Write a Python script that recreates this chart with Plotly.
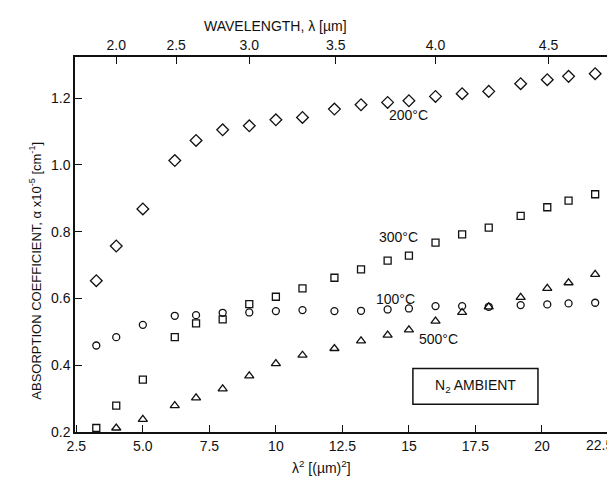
import plotly.graph_objects as go

# lambda^2 values (um^2)
x_common = [3.25, 4.0, 5.0, 6.2, 7.0, 8.0, 9.0, 10.0, 11.0, 12.2, 13.2, 14.2, 15.0, 16.0, 17.0, 18.0, 19.2, 20.2, 21.0, 22.0]

# absorption coefficient, alpha x 1e-5 [cm^-1]
y_200 = [0.653, 0.757, 0.868, 1.013, 1.073, 1.105, 1.117, 1.135, 1.142, 1.167, 1.180, 1.187, 1.192, 1.205, 1.213, 1.220, 1.243, 1.255, 1.265, 1.273]
y_300 = [0.212, 0.279, 0.357, 0.484, 0.525, 0.537, 0.583, 0.605, 0.630, 0.662, 0.687, 0.713, 0.728, 0.767, 0.792, 0.812, 0.847, 0.873, 0.893, 0.912]
y_100 = [0.459, 0.484, 0.521, 0.548, 0.550, 0.557, 0.558, 0.562, 0.565, 0.562, 0.563, 0.567, 0.570, 0.577, 0.577, 0.575, 0.580, 0.582, 0.585, 0.587]
x_500 = [4.0, 5.0, 6.2, 7.0, 8.0, 9.0, 10.0, 11.0, 12.2, 13.2, 14.2, 15.0, 16.0, 17.0, 18.0, 19.2, 20.2, 21.0, 22.0]
y_500 = [0.212, 0.238, 0.279, 0.302, 0.329, 0.368, 0.405, 0.430, 0.450, 0.473, 0.490, 0.506, 0.532, 0.558, 0.575, 0.603, 0.630, 0.647, 0.672]

x_ticks = [2.5, 5.0, 7.5, 10, 12.5, 15, 17.5, 20, 22.5]
x_ticktext = ["2.5", "5.0", "7.5", "10", "12.5", "15", "17.5", "20", ""]
last_x_label = "22.5"
y_ticks = [0.2, 0.4, 0.6, 0.8, 1.0, 1.2]
y_ticktext = ["0.2", "0.4", "0.6", "0.8", "1.0", "1.2"]
lam_ticks = [2.0, 2.5, 3.0, 3.5, 4.0, 4.5]

FONT = "Liberation Sans"
BLACK = "#111111"

fig = go.Figure()

def add(x, y, symbol, size, name):
    fig.add_trace(go.Scatter(
        x=x, y=y, mode="markers", name=name,
        marker=dict(symbol=symbol, size=size, color=BLACK,
                    line=dict(color=BLACK, width=1.3)),
        showlegend=False))

add(x_common, y_200, "diamond-open", 9, "200°C")
add(x_common, y_300, "square-open", 7, "300°C")
add(x_common, y_100, "circle-open", 7, "100°C")
add(x_500, y_500, "triangle-up-open", 8, "500°C")

# invisible trace on top axis so it is drawn
fig.add_trace(go.Scatter(x=[x_common[0]], y=[y_100[0]], xaxis="x2", mode="markers",
                         marker=dict(opacity=0), showlegend=False, hoverinfo="skip"))

xr = [2.45, 22.52]
yr = [0.2, 1.323]

fig.update_layout(
    width=615, height=482,
    margin=dict(l=67, r=14, t=49, b=58),
    paper_bgcolor="white", plot_bgcolor="white",
    font=dict(family=FONT, size=13, color=BLACK),
    xaxis=dict(range=xr, tickmode="array", tickvals=x_ticks, ticktext=x_ticktext,
               ticks="inside", ticklen=7, tickwidth=1.3, tickcolor=BLACK,
               showline=True, linecolor=BLACK, linewidth=1.5, mirror=False,
               showgrid=False, zeroline=False, tickfont=dict(size=14)),
    xaxis2=dict(range=xr, overlaying="x", side="top",
                tickmode="array", tickvals=[v * v for v in lam_ticks],
                ticktext=["%.1f" % v for v in lam_ticks],
                ticks="inside", ticklen=7, tickwidth=1.3, tickcolor=BLACK,
                showline=True, linecolor=BLACK, linewidth=1.5,
                showgrid=False, zeroline=False, tickfont=dict(size=14)),
    yaxis=dict(range=yr, tickmode="array", tickvals=y_ticks, ticktext=y_ticktext,
               ticks="inside", ticklen=7, tickwidth=1.3, tickcolor=BLACK,
               showline=True, linecolor=BLACK, linewidth=1.5, mirror=True,
               showgrid=False, zeroline=False, tickfont=dict(size=14)),
)

ann = [
    dict(text="WAVELENGTH, λ [µm]", x=0.376, y=1.083, font=dict(size=14)),
    dict(text="λ<sup>2</sup> [(µm)<sup>2</sup>]", x=0.461, y=-0.092, font=dict(size=14)),
    dict(text="ABSORPTION COEFFICIENT, α x10<sup>-5</sup> [cm<sup>-1</sup>]", x=-0.075, y=0.43,
         textangle=-90, font=dict(size=13)),
]
for a in ann:
    fig.add_annotation(xref="paper", yref="paper", showarrow=False,
                       xanchor="center", yanchor="middle", **a)

# last bottom tick label, kept inside the page
fig.add_annotation(x=x_ticks[-1], y=0, xref="x", yref="paper", yanchor="top",
                   xanchor="right", xshift=7, yshift=-3, text=last_x_label,
                   showarrow=False, font=dict(size=14))

labels = [("200°C", 15.0, 1.148), ("300°C", 14.6, 0.785), ("100°C", 14.5, 0.597), ("500°C", 16.1, 0.48)]
for t, lx, ly in labels:
    fig.add_annotation(x=lx, y=ly, text=t, showarrow=False, font=dict(size=14))

fig.add_shape(type="rect", x0=15.15, x1=19.85, y0=0.283, y1=0.39,
              line=dict(color=BLACK, width=1.5))
fig.add_annotation(x=17.5, y=0.337, text="N<sub>2</sub> AMBIENT", showarrow=False,
                   font=dict(size=14))

fig.write_html("out.html")
